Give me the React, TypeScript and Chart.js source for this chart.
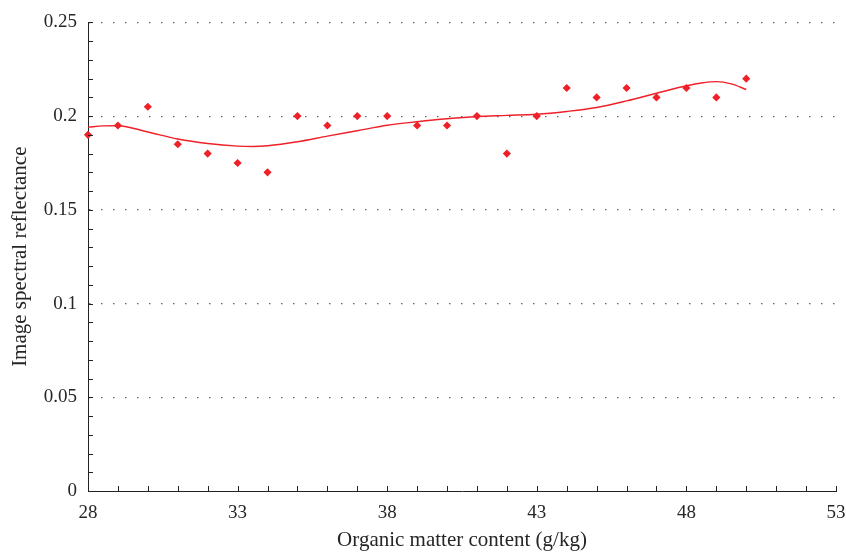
import { useEffect, useRef } from "react";
import { Chart, registerables } from "chart.js";

Chart.register(...registerables);

// Measured points
const organicMatter = [28, 29, 30, 31, 32, 33, 34, 35, 36, 37, 38, 39, 40, 41, 42, 43, 44, 45, 46, 47, 48, 49, 50];
const reflectance = [0.19, 0.195, 0.205, 0.185, 0.18, 0.175, 0.17, 0.2, 0.195, 0.2, 0.2, 0.195, 0.195, 0.2, 0.18, 0.2, 0.215, 0.21, 0.215, 0.21, 0.215, 0.21, 0.22];

// Fitted curve
const fitX = [28, 28.5, 29, 30, 31, 32, 33, 33.5, 34, 35, 36, 37, 38, 39, 40, 41, 42, 43, 44, 45, 46, 47, 48, 48.5, 49, 49.5, 50];
const fitY = [0.194, 0.1948, 0.1949, 0.1915, 0.1878, 0.1854, 0.184, 0.1838, 0.1842, 0.1863, 0.1893, 0.1922, 0.1951, 0.197, 0.1986, 0.1998, 0.2004, 0.201, 0.2025, 0.2046, 0.2081, 0.2122, 0.2162, 0.2177, 0.2184, 0.2172, 0.2142];

const X_MIN = 28;
const X_MAX = 53;
const X_STEP = 5;
const X_MINOR = 1;
const Y_MIN = 0;
const Y_MAX = 0.25;
const Y_STEP = 0.05;
const Y_MINOR = 0.01;

const RED = "#ee2028";
const TEXT = "#262626";
const FONT = "'Liberation Serif', 'DejaVu Serif', serif";

const minorTicks = {
  id: "minorTicks",
  afterDraw(chart: any) {
    const { ctx, scales } = chart;
    const xs = scales.x;
    const ys = scales.y;
    ctx.save();
    ctx.strokeStyle = "#222";
    ctx.lineWidth = 1;
    ctx.beginPath();
    const nx = Math.round((X_MAX - X_MIN) / X_MINOR);
    for (let i = 0; i <= nx; i++) {
      const px = Math.round(xs.getPixelForValue(X_MIN + i * X_MINOR)) + 0.5;
      ctx.moveTo(px, ys.bottom);
      ctx.lineTo(px, ys.bottom - 5);
    }
    const ny = Math.round((Y_MAX - Y_MIN) / Y_MINOR);
    for (let i = 0; i <= ny; i++) {
      const py = Math.round(ys.getPixelForValue(Y_MIN + i * Y_MINOR)) + 0.5;
      ctx.moveTo(xs.left, py);
      ctx.lineTo(xs.left + 5, py);
    }
    ctx.stroke();
    ctx.restore();
  },
};

export default function App() {
  const ref = useRef<HTMLCanvasElement>(null);

  useEffect(() => {
    if (!ref.current) return;
    const chart = new Chart(ref.current, {
      type: "scatter",
      data: {
        datasets: [
          {
            type: "scatter",
            label: "Measured",
            data: organicMatter.map((x, i) => ({ x, y: reflectance[i] })),
            backgroundColor: RED,
            borderColor: RED,
            pointStyle: "rectRot",
            pointRadius: 4.1,
            borderWidth: 0,
            clip: false,
            order: 1,
          } as any,
          {
            type: "line",
            label: "Fit",
            data: fitX.map((x, i) => ({ x, y: fitY[i] })),
            borderColor: RED,
            borderWidth: 1.4,
            pointRadius: 0,
            fill: false,
            cubicInterpolationMode: "monotone",
            order: 2,
          } as any,
        ],
      },
      options: {
        animation: false,
        responsive: false,
        layout: { padding: { top: 18, right: 0, left: 0, bottom: 0 } },
        plugins: {
          legend: { display: false },
          tooltip: { enabled: false },
        },
        scales: {
          x: {
            type: "linear",
            min: X_MIN,
            max: X_MAX,
            afterFit: (s: any) => {
              s.height = 65;
              s.paddingRight = 10;
              s.paddingLeft = 0;
            },
            ticks: {
              stepSize: X_STEP,
              color: TEXT,
              font: { family: FONT, size: 19 },
              padding: 11,
              maxRotation: 0,
            },
            grid: { display: false, drawTicks: false },
            border: { display: true, color: "#222", width: 1 },
            title: {
              display: true,
              text: "Organic matter content (g/kg)",
              color: TEXT,
              font: { family: FONT, size: 21 },
              padding: { top: 0, bottom: 3 },
            },
          },
          y: {
            type: "linear",
            min: Y_MIN,
            max: Y_MAX,
            afterFit: (s: any) => {
              s.width = 88;
            },
            ticks: {
              stepSize: Y_STEP,
              color: TEXT,
              font: { family: FONT, size: 19 },
              padding: 11,
              callback: (v: any) => String(Math.round(Number(v) * 100) / 100),
            },
            grid: {
              drawTicks: false,
              color: (c: any) => (c.tick && c.tick.value === 0 ? "rgba(0,0,0,0)" : "#666"),
              lineWidth: 1.2,
            },
            border: { display: true, color: "#222", width: 1, dash: [1.5, 10.5] as any },
            title: {
              display: true,
              text: "Image spectral reflectance",
              color: TEXT,
              font: { family: FONT, size: 21 },
              padding: { top: 8, bottom: 0 },
            },
          },
        },
      } as any,
      plugins: [minorTicks],
    });
    return () => chart.destroy();
  }, []);

  return (
    <div style={{ position: "absolute", left: 0, top: 0, width: 846, height: 556, background: "#fff" }}>
      <canvas ref={ref} width={846} height={556} style={{ display: "block" }} />
    </div>
  );
}
